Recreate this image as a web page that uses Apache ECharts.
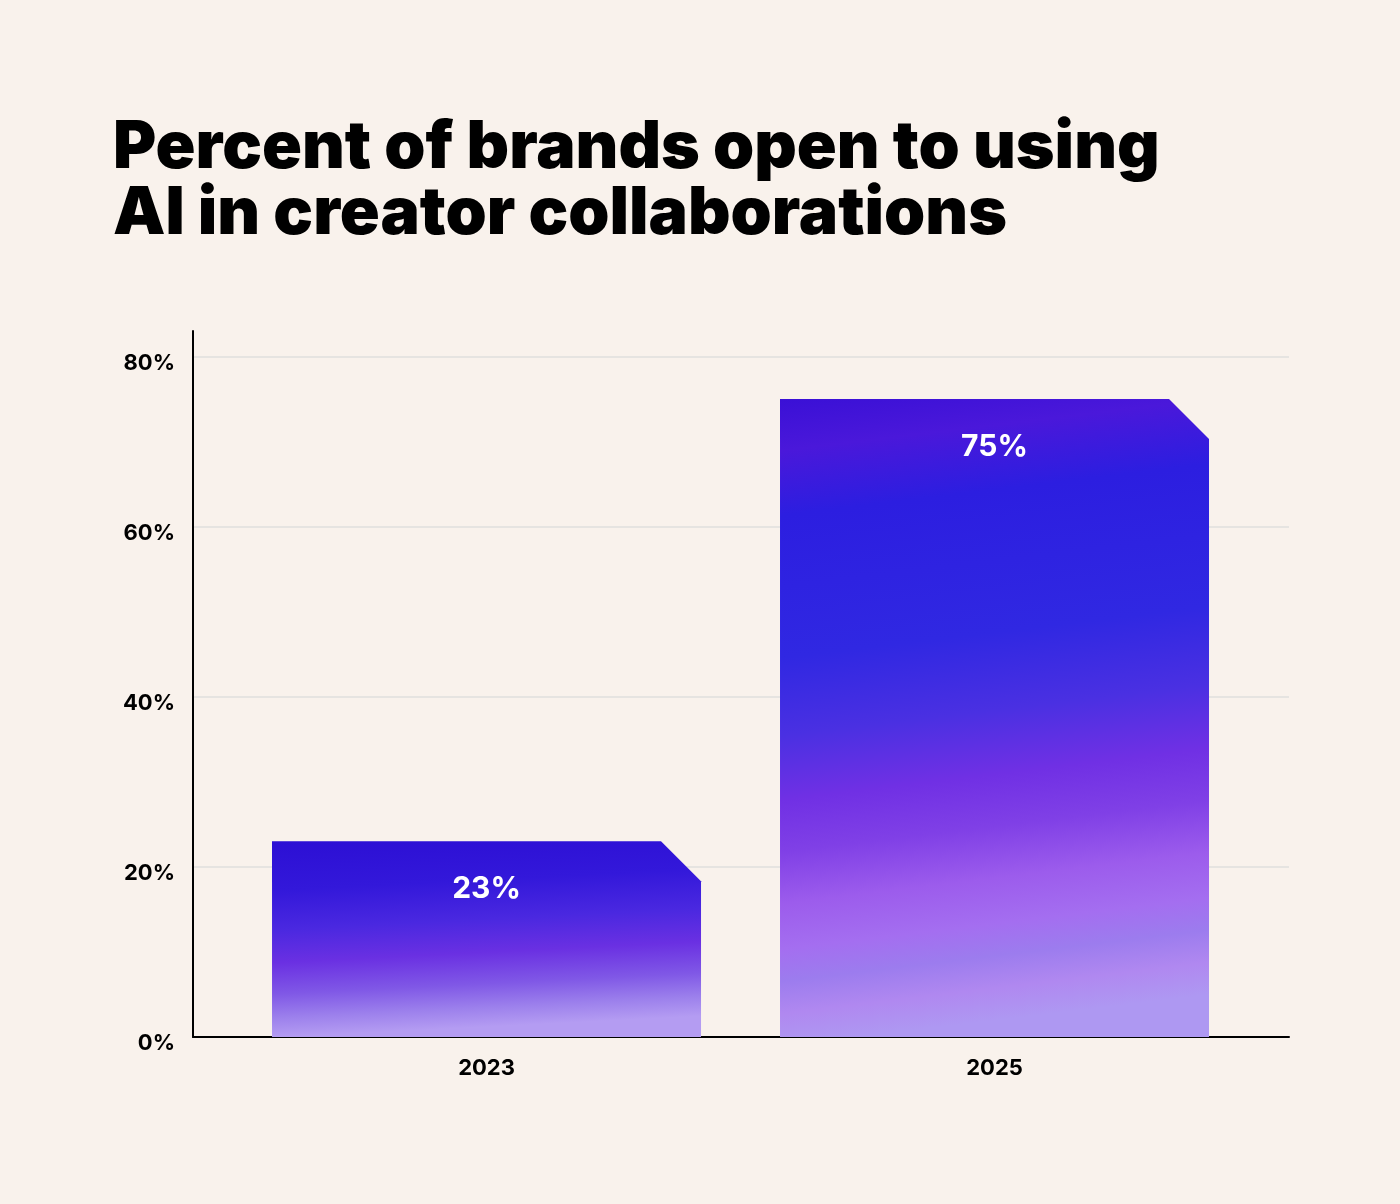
<!DOCTYPE html>
<html><head><meta charset="utf-8">
<script src="https://cdn.jsdelivr.net/npm/echarts@6/dist/echarts.min.js"></script>
<style>html,body{margin:0;padding:0;background:#f9f2ec}#c{width:1400px;height:1204px}</style>
</head><body><div id="c"></div>
<script>
// ---- data ----
const titleLines = ['Percent of brands open to using', 'AI in creator collaborations'];
const categories = ['2023', '2025'];
const values = [23, 75];
const yTickStep = 20;
const yMax = 83;

// ---- style constants ----
const BAR_WIDTH = 429;
const CHAMFER = 40;
const GRADIENTS = [
  [[0, '#2c0fd4'], [0.25, '#3318da'], [0.45, '#4a28e0'], [0.62, '#6a30e2'], [0.78, '#8058e6'], [0.9, '#9c80ec'], [1, '#b49cf2']],
  [[0, '#3a10d6'], [0.08, '#4a18da'], [0.18, '#2c1ee0'], [0.4, '#3028e2'], [0.52, '#4a30e2'], [0.62, '#7030e4'], [0.7, '#8040e6'],
   [0.78, '#9c5cec'], [0.85, '#a46ef0'], [0.9, '#9c7cee'], [0.95, '#b088f0'], [1, '#ae98f2']]
];
const TILT = [0.05, 0.12];

const chart = echarts.init(document.getElementById('c'), null, {renderer: 'canvas'});
chart.setOption({
  backgroundColor: '#f9f2ec',
  animation: false,
  title: {
    text: titleLines.join('\n'),
    left: 108, top: 110,
    textStyle: {fontFamily: 'Inter', fontWeight: 900, fontSize: 66, lineHeight: 66, color: '#000'}
  },
  grid: {left: 193, right: 111, top: 331, bottom: 167},
  xAxis: {
    type: 'value', min: -0.5778, max: 1.5797,
    axisLine: {show: true, onZero: false, lineStyle: {color: '#000', width: 2}},
    axisTick: {show: false},
    splitLine: {show: false},
    axisLabel: {
      customValues: categories.map((c, i) => i),
      formatter: v => categories[Math.round(v)],
      margin: 20,
      fontFamily: 'Inter', fontWeight: 700, fontSize: 22, color: '#000'
    }
  },
  yAxis: {
    type: 'value', min: 0, max: yMax, interval: yTickStep,
    axisLine: {show: true, onZero: false, lineStyle: {color: '#000', width: 2}},
    axisTick: {show: false},
    splitLine: {show: true, showMinLine: false, showMaxLine: false, lineStyle: {color: '#e6e4e1', width: 2}},
    axisLabel: {
      showMaxLabel: false,
      formatter: v => v + '%',
      margin: 18,
      verticalAlign: 'top',
      lineHeight: 13,
      fontFamily: 'Inter', fontWeight: 700, fontSize: 22, color: '#000'
    }
  },
  series: [{
    type: 'custom',
    data: values.map((v, i) => [i, v]),
    renderItem: function (params, api) {
      const x = api.value(0), v = api.value(1);
      const top = api.coord([x, v]);
      const base = api.coord([x, 0]);
      const L = top[0] - BAR_WIDTH / 2, R = top[0] + BAR_WIDTH / 2;
      const H = base[1] - top[1];
      const i = params.dataIndex;
      const grad = new echarts.graphic.LinearGradient(
        L, top[1], L + TILT[i] * H, base[1],
        GRADIENTS[i].map(s => ({offset: s[0], color: s[1]})), true);
      return {
        type: 'group',
        children: [
          {type: 'polygon', shape: {points: [[L, base[1]], [L, top[1]], [R - CHAMFER, top[1]], [R, top[1] + CHAMFER], [R, base[1]]]},
           style: {fill: grad}},
          {type: 'text', x: top[0], y: top[1] + 48,
           style: {text: v + '%', fill: '#fff', font: '700 30px Inter', textAlign: 'center', textVerticalAlign: 'middle'}}
        ]
      };
    }
  }]
});
</script></body></html>
